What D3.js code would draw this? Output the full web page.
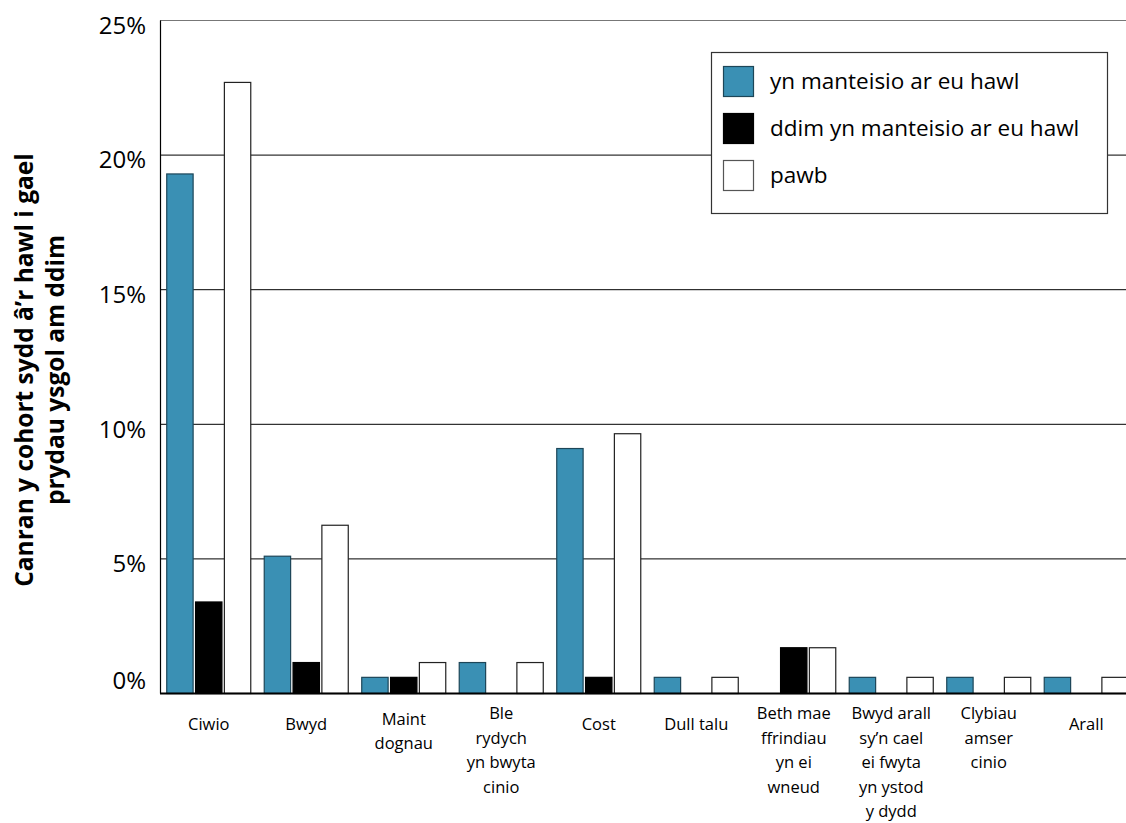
<!DOCTYPE html>
<html>
<head>
<meta charset="utf-8">
<script src="https://cdn.jsdelivr.net/npm/d3@7"></script>
<style>
  body { margin: 0; background: #fff; }
  text { font-family: "Open Sans", "Noto Sans", sans-serif; fill: #000; }
</style>
</head>
<body>
<div id="chart"></div>
<script>
var categories = ['Ciwio', 'Bwyd', 'Maint dognau', 'Ble rydych yn bwyta cinio', 'Cost',
  'Dull talu', 'Beth mae ffrindiau yn ei wneud', 'Bwyd arall sy\u2019n cael ei fwyta yn ystod y dydd',
  'Clybiau amser cinio', 'Arall'];
var category_lines = [
  ['Ciwio'],
  ['Bwyd'],
  ['Maint', 'dognau'],
  ['Ble', 'rydych', 'yn bwyta', 'cinio'],
  ['Cost'],
  ['Dull talu'],
  ['Beth mae', 'ffrindiau', 'yn ei', 'wneud'],
  ['Bwyd arall', 'sy\u2019n cael', 'ei fwyta', 'yn ystod', 'y dydd'],
  ['Clybiau', 'amser', 'cinio'],
  ['Arall']
];
var series_names = ['yn manteisio ar eu hawl', 'ddim yn manteisio ar eu hawl', 'pawb'];
var taking_up = [19.3, 5.1, 0.6, 1.15, 9.1, 0.6, 0, 0.6, 0.6, 0.6];
var not_taking_up = [3.4, 1.15, 0.6, 0, 0.6, 0, 1.7, 0, 0, 0];
var everyone = [22.7, 6.25, 1.15, 1.15, 9.65, 0.6, 1.7, 0.6, 0.6, 0.6];
var y_ticks = [0, 5, 10, 15, 20, 25];
var y_tick_labels = ['0%', '5%', '10%', '15%', '20%', '25%'];
var y_title = ['Canran y cohort sydd \u00e2\u2019r hawl i gael', 'prydau ysgol am ddim'];

var chart_width = 1126;
var chart_height = 823;
var plot_left = 160, plot_right = 1135, plot_top = 20, plot_bottom = 693;

var fills = ['#3a90b4', '#000000', '#ffffff'];
var strokes = ['#1d4658', '#000000', '#222222'];

var all_series = [taking_up, not_taking_up, everyone];

var svg = d3.select('#chart')
  .append('svg')
  .attr('width', chart_width)
  .attr('height', chart_height);

// scales
var x_scale = d3.scaleBand()
  .domain(categories)
  .range([plot_left, plot_right])
  .paddingInner(0.128)
  .paddingOuter(0.064);

var sub_scale = d3.scaleBand()
  .domain(d3.range(series_names.length))
  .range([0, x_scale.bandwidth()])
  .paddingInner(0.05);

var y_scale = d3.scaleLinear()
  .domain([0, 25])
  .range([plot_bottom, plot_top]);

// gridlines
svg.append('g')
  .selectAll('line')
  .data(y_ticks.filter(d => d > 0))
  .enter()
  .append('line')
  .attr('x1', plot_left)
  .attr('x2', chart_width)
  .attr('y1', d => y_scale(d) + 0.5)
  .attr('y2', d => y_scale(d) + 0.5)
  .attr('stroke', d => d === 25 ? '#777' : '#000')
  .attr('stroke-width', 1);

// bars
var groups = svg.append('g')
  .selectAll('g')
  .data(categories)
  .enter()
  .append('g')
  .attr('transform', d => 'translate(' + x_scale(d) + ',0)');

groups.selectAll('rect')
  .data((d, i) => all_series.map((s, j) => ({ s: j, v: s[i] })).filter(e => e.v > 0))
  .enter()
  .append('rect')
  .attr('x', d => sub_scale(d.s) + 0.5)
  .attr('y', d => y_scale(d.v) + 0.5)
  .attr('width', sub_scale.bandwidth() - 1)
  .attr('height', d => y_scale(0) - y_scale(d.v))
  .attr('fill', d => fills[d.s])
  .attr('stroke', d => strokes[d.s])
  .attr('stroke-width', 1.2);

// y axis
var y_axis = d3.axisLeft(y_scale)
  .tickValues(y_ticks)
  .tickSize(0)
  .tickPadding(14)
  .tickFormat((d, i) => y_tick_labels[i]);

var y_g = svg.append('g')
  .attr('transform', 'translate(' + plot_left + ',0)')
  .call(y_axis);
y_g.select('.domain').attr('stroke', '#000').attr('stroke-width', 1.2);
y_g.selectAll('text')
  .style('font-size', '24px')
  .style('font-family', '"Open Sans", sans-serif')
  .attr('dy', d => d === 0 ? '-0.2em' : '0.55em');

// baseline
svg.append('line')
  .attr('x1', plot_left)
  .attr('x2', chart_width)
  .attr('y1', y_scale(0) + 0.5)
  .attr('y2', y_scale(0) + 0.5)
  .attr('stroke', '#000')
  .attr('stroke-width', 2);

// x labels
var x_labels = svg.append('g')
  .selectAll('text')
  .data(categories)
  .enter()
  .append('text')
  .attr('text-anchor', 'middle')
  .style('font-size', '16.5px')
  .attr('transform', (d, i) => {
    var n = category_lines[i].length;
    var base = 730 - Math.min(n - 1, 2) * 5.5;
    return 'translate(' + (x_scale(d) + x_scale.bandwidth() / 2) + ',' + base + ')';
  });

x_labels.selectAll('tspan')
  .data((d, i) => category_lines[i])
  .enter()
  .append('tspan')
  .attr('x', 0)
  .attr('y', (d, j) => j * 24.5)
  .text(d => d);

// y title
svg.append('text')
  .attr('transform', 'translate(33,370) rotate(-90)')
  .attr('text-anchor', 'middle')
  .style('font-size', '24.5px')
  .style('font-weight', 'bold')
  .selectAll('tspan')
  .data(y_title)
  .enter()
  .append('tspan')
  .attr('x', 0)
  .attr('y', (d, i) => i * 31)
  .text(d => d);

// legend
var legend = svg.append('g');
legend.append('rect')
  .attr('x', 711.5)
  .attr('y', 52.5)
  .attr('width', 396)
  .attr('height', 161)
  .attr('fill', '#fff')
  .attr('stroke', '#333')
  .attr('stroke-width', 1.2);

var items = legend.selectAll('g.item')
  .data(series_names)
  .enter()
  .append('g')
  .attr('class', 'item')
  .attr('transform', (d, i) => 'translate(723,' + (66 + i * 47) + ')');

items.append('rect')
  .attr('x', 0.5)
  .attr('y', 0.5)
  .attr('width', 30)
  .attr('height', 30)
  .attr('fill', (d, i) => fills[i])
  .attr('stroke', (d, i) => i === 2 ? '#555' : strokes[i])
  .attr('stroke-width', 1.2);

items.append('text')
  .attr('x', 47)
  .attr('y', 23)
  .style('font-size', '22.5px')
  .text(d => d);
</script>
</body>
</html>
